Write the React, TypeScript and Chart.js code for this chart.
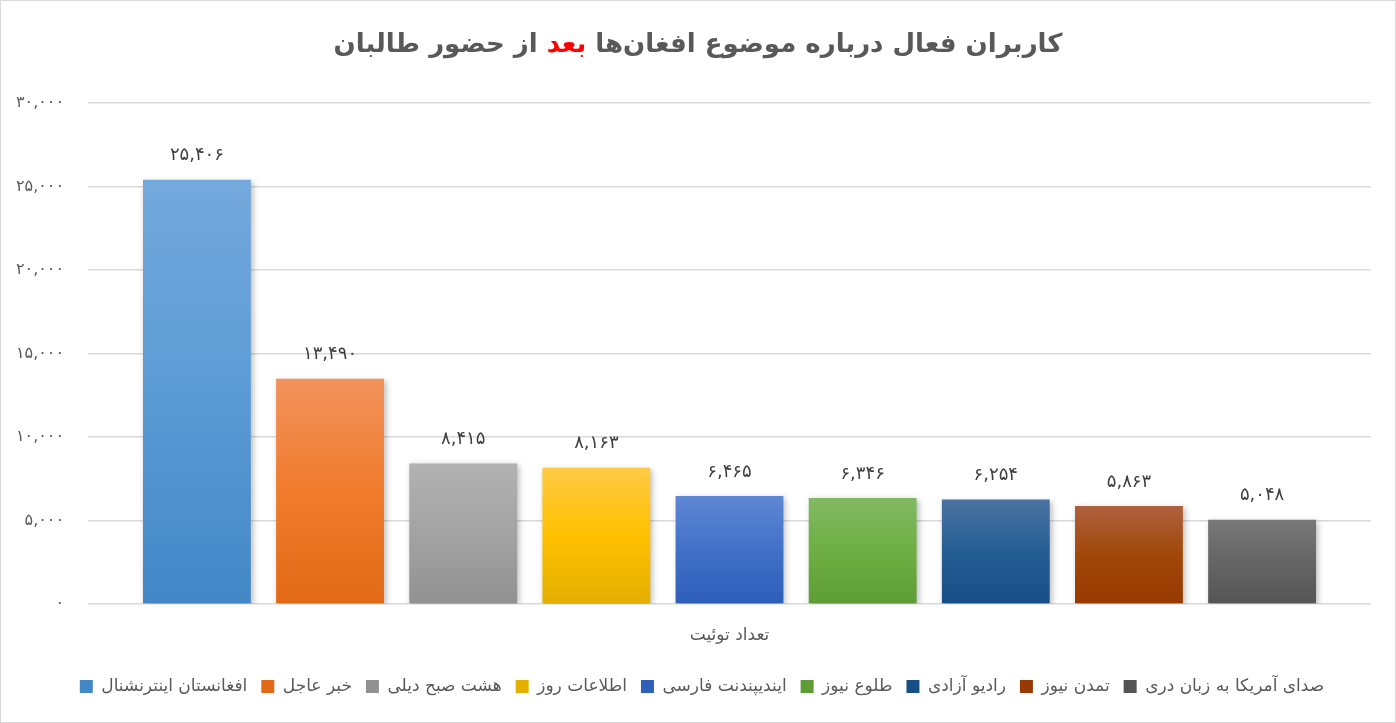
import React, { useEffect, useRef } from "react";
import { Chart, registerables } from "chart.js";

Chart.register(...registerables);

const categories = ["تعداد توئیت"];
const seriesNames = [
  "افغانستان اینترنشنال",
  "خبر عاجل",
  "هشت صبح دیلی",
  "اطلاعات روز",
  "ایندیپندنت فارسی",
  "طلوع نیوز",
  "رادیو آزادی",
  "تمدن نیوز",
  "صدای آمریکا به زبان دری",
];
const seriesValues = [25406, 13490, 8415, 8163, 6465, 6346, 6254, 5863, 5048];
const seriesColors = [
  ["#74a9dc", "#5b9bd5", "#4387c7"],
  ["#f2925c", "#f07b2c", "#e26a16"],
  ["#b2b2b2", "#a3a3a3", "#919191"],
  ["#ffca45", "#ffc000", "#e3b000"],
  ["#5f88d4", "#4270c8", "#2d5eb8"],
  ["#82ba64", "#6eae42", "#5e9d36"],
  ["#4a73a2", "#245d93", "#184e86"],
  ["#ae613e", "#a14709", "#973a02"],
  ["#787878", "#656565", "#555555"],
];
const titleParts = [
  { text: "کاربران فعال درباره موضوع افغان‌ها ", color: "#595959" },
  { text: "بعد", color: "#ff0000" },
  { text: " از حضور طالبان", color: "#595959" },
];
const yMax = 30000;
const yStep = 5000;

const FONT = "'DejaVu Sans', 'Noto Sans', sans-serif";

function toFa(n: number): string {
  const s = Math.round(n).toString().replace(/\B(?=(\d{3})+(?!\d))/g, ",");
  return s.replace(/\d/g, (d) => "۰۱۲۳۴۵۶۷۸۹"[Number(d)]);
}

export default function App() {
  const ref = useRef<HTMLCanvasElement | null>(null);

  useEffect(() => {
    document.body.style.margin = "0";
    const canvas = ref.current;
    if (!canvas) return;

    const borderPlugin = {
      id: "borderPlugin",
      beforeDraw(chart: any) {
        const c = chart.ctx;
        c.save();
        c.fillStyle = "#ffffff";
        c.fillRect(0, 0, chart.width, chart.height);
        c.strokeStyle = "#d9d9d9";
        c.lineWidth = 1;
        c.strokeRect(0.5, 0.5, chart.width - 1, chart.height - 1);
        c.restore();
      },
    };

    const titlePlugin = {
      id: "titlePlugin",
      afterDraw(chart: any) {
        const c = chart.ctx;
        c.save();
        c.font = `bold 26px ${FONT}`;
        c.textBaseline = "middle";
        (c as any).direction = "rtl";
        c.textAlign = "right";
        const widths = titleParts.map((p) => c.measureText(p.text).width);
        const total = widths.reduce((a, b) => a + b, 0);
        const cx = chart.width / 2;
        let x = cx + total / 2;
        titleParts.forEach((p, i) => {
          c.fillStyle = p.color;
          c.fillText(p.text, x, 45);
          x -= widths[i];
        });
        c.restore();
      },
    };

    const shadowPlugin = {
      id: "shadowPlugin",
      beforeDatasetsDraw(chart: any) {
        const c = chart.ctx;
        c.save();
        c.shadowColor = "rgba(0,0,0,0.28)";
        c.shadowBlur = 6;
        c.shadowOffsetX = 2;
        c.shadowOffsetY = 2;
      },
      afterDatasetsDraw(chart: any) {
        chart.ctx.restore();
      },
    };

    const labelPlugin = {
      id: "labelPlugin",
      afterDatasetsDraw(chart: any) {
        const c = chart.ctx;
        c.save();
        c.font = `18px ${FONT}`;
        c.fillStyle = "#404040";
        c.textAlign = "center";
        c.textBaseline = "bottom";
        chart.data.datasets.forEach((ds: any, i: number) => {
          const meta = chart.getDatasetMeta(i);
          meta.data.forEach((el: any, j: number) => {
            c.fillText(toFa(ds.data[j]), el.x, el.y - 15);
          });
        });
        c.restore();
      },
    };

    const datasets = seriesNames.map((name, i) => ({
      label: name,
      data: [seriesValues[i]],
      backgroundColor: (ctx: any) => {
        const chart = ctx.chart;
        const area = chart.chartArea;
        const cols = seriesColors[i];
        if (!area) return cols[1];
        const top = chart.scales.y.getPixelForValue(seriesValues[i]);
        const g = chart.ctx.createLinearGradient(0, top, 0, area.bottom);
        g.addColorStop(0, cols[0]);
        g.addColorStop(0.5, cols[1]);
        g.addColorStop(1, cols[2]);
        return g;
      },
      borderWidth: 0,
      barPercentage: 0.81,
      categoryPercentage: 0.934,
    }));

    const chart = new Chart(canvas, {
      type: "bar",
      data: { labels: categories, datasets },
      plugins: [borderPlugin, shadowPlugin, labelPlugin, titlePlugin],
      options: {
        animation: false,
        responsive: false,
        devicePixelRatio: 1,
        layout: { padding: { top: 103, left: 8, right: 0, bottom: 18 } },
        plugins: {
          title: { display: false },
          tooltip: { enabled: false },
          legend: {
            display: true,
            position: "bottom",
            labels: {
              boxWidth: 13,
              boxHeight: 13,
              padding: 14,
              color: "#595959",
              font: { family: FONT, size: 17 },
            },
          },
        },
        scales: {
          x: {
            grid: { display: false, drawTicks: false },
            border: { display: false },
            ticks: {
              color: "#595959",
              font: { family: FONT, size: 17 },
              padding: 21,
            },
            afterFit(scale: any) {
              scale.height = 60;
            },
          },
          y: {
            min: 0,
            max: yMax,
            ticks: {
              stepSize: yStep,
              color: "#595959",
              font: { family: FONT, size: 16 },
              padding: 24,
              callback: (v: any) => toFa(Number(v)),
            },
            grid: { color: "#d9d9d9", lineWidth: 1.5, drawTicks: false },
            border: { display: false },
            afterFit(scale: any) {
              scale.width = 80;
            },
          },
          yRight: {
            type: "linear",
            position: "right",
            display: true,
            min: 0,
            max: yMax,
            grid: { display: false, drawTicks: false },
            border: { display: false },
            ticks: { display: false },
            afterFit(scale: any) {
              scale.width = 25;
            },
          },
        },
      },
    });

    return () => chart.destroy();
  }, []);

  return (
    <div style={{ width: 1396, height: 723 }}>
      <canvas ref={ref} width={1396} height={723} style={{ display: "block" }} />
    </div>
  );
}
